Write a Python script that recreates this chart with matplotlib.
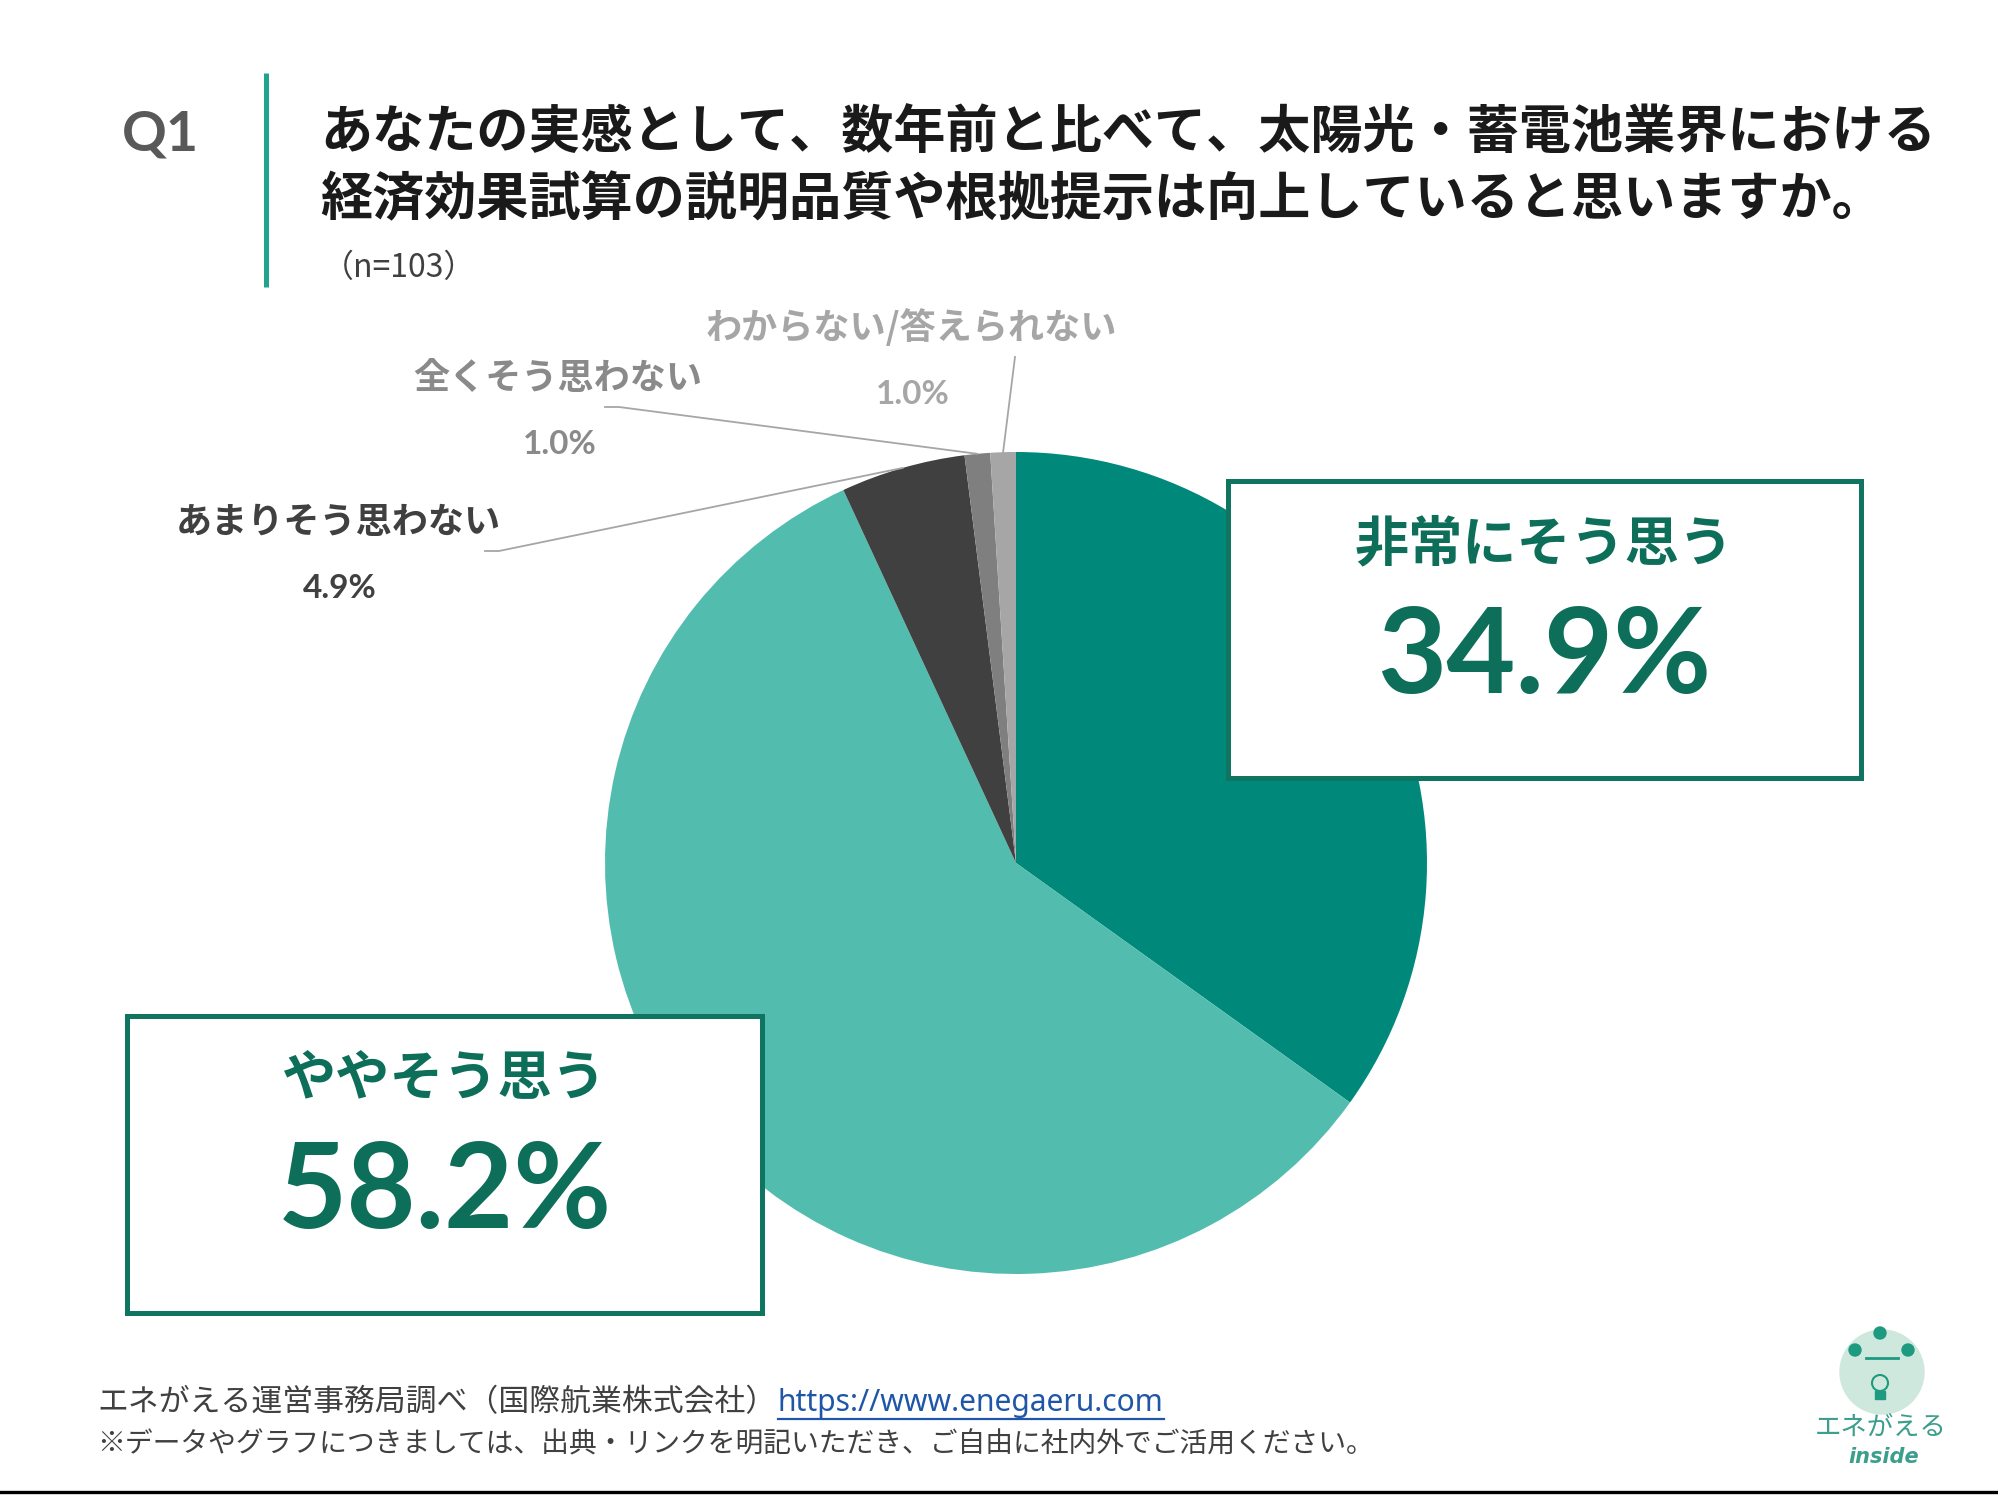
import matplotlib
matplotlib.use('Agg')
import matplotlib.pyplot as plt
from matplotlib.patches import Rectangle, Circle
import numpy as np

plt.rcParams['font.family'] = ['Noto Sans CJK JP', 'DejaVu Sans']

# survey data
categories = ['非常にそう思う', 'ややそう思う', 'あまりそう思わない', '全くそう思わない', 'わからない/答えられない']
values = [34.9, 58.2, 4.9, 1.0, 1.0]
value_labels = ['34.9%', '58.2%', '4.9%', '1.0%', '1.0%']
colors = ['#00897a', '#52bdae', '#404040', '#7f7f7f', '#a6a6a6']

title_lines = ['あなたの実感として、数年前と比べて、太陽光・蓄電池業界における',
               '経済効果試算の説明品質や根拠提示は向上していると思いますか。']
sample_size = '（n=103）'
source = 'エネがえる運営事務局調べ（国際航業株式会社）'
url = 'https://www.enegaeru.com'
note = '※データやグラフにつきましては、出典・リンクを明記いただき、ご自由に社内外でご活用ください。'

W, H = 1999, 1500
fig = plt.figure(figsize=(W / 100, H / 100), dpi=100)
fig.patch.set_facecolor('white')

# pie position in pixels
cx, cy, r = 1016, 863, 411

pie_ax = fig.add_axes([(cx - r) / W, (H - cy - r) / H, 2 * r / W, 2 * r / H])
pie_ax.pie(values, colors=colors, startangle=90, counterclock=False, radius=1,
           wedgeprops={'linewidth': 0})
pie_ax.set_xlim(-1, 1)
pie_ax.set_ylim(-1, 1)
pie_ax.axis('off')

# overlay in pixel coordinates (y down)
ax = fig.add_axes([0, 0, 1, 1], zorder=2)
ax.set_xlim(0, W)
ax.set_ylim(H, 0)
ax.axis('off')

teal_dark = '#0d6e5a'

# header
ax.text(160, 134, 'Q1', fontsize=40, fontweight='bold', color='#595959',
        family=['Lato', 'DejaVu Sans'], ha='center', va='center')
ax.plot([266, 266], [73, 287], color='#20a48e', lw=3.6, solid_capstyle='butt')
ax.text(320, 132, title_lines[0], fontsize=37.5, fontweight='bold', color='#1a1a1a', va='center')
ax.text(320, 200, title_lines[1], fontsize=37.5, fontweight='bold', color='#1a1a1a', va='center')
ax.text(322, 268, sample_size, fontsize=23, color='#404040', va='center')

# leader labels for the small slices
cum = np.cumsum([0] + values[:-1])
mid = np.radians(90 - (cum + np.array(values) / 2) / sum(values) * 360)
label_pos = {2: (338, 523), 3: (558, 379), 4: (911, 328)}
elbow = {2: (485, 551), 3: (605, 407), 4: (1015, 357)}
text_colors = {2: '#404040', 3: '#8a8a8a', 4: '#a6a6a6'}
for i in (2, 3, 4):
    lx, ly = label_pos[i]
    ax.text(lx, ly, categories[i], fontsize=26, fontweight='bold', color=text_colors[i],
            ha='center', va='center')
    ax.text(lx + 2, ly + 66, value_labels[i], fontsize=24, fontweight='bold', color=text_colors[i],
            family=['Lato', 'DejaVu Sans'], ha='center', va='center')
    ex, ey = elbow[i]
    rx = cx + r * np.cos(mid[i])
    ry = cy - r * np.sin(mid[i])
    if i == 4:
        ax.plot([ex, rx], [ey, ry], color='#a6a6a6', lw=1.3)
    else:
        ax.plot([ex, ex + 14, rx], [ey, ey, ry], color='#a6a6a6', lw=1.3)

# callout boxes for the two large slices
boxes = {0: (1228, 481, 633, 297), 1: (127, 1016, 635, 297)}
for i, (bx, by, bw, bh) in boxes.items():
    ax.add_patch(Rectangle((bx, by), bw, bh, facecolor='white', edgecolor='#0f7560', lw=3.6))
    ax.text(bx + bw / 2, by + 64, categories[i], fontsize=39, fontweight='bold', color=teal_dark,
            ha='center', va='center')
    ax.text(bx + bw / 2, by + 178, value_labels[i], fontsize=86, fontweight='bold', color=teal_dark,
            family=['Lato', 'DejaVu Sans'], ha='center', va='center')

# footer
ax.text(97, 1403, source, fontsize=22.2, color='#404040', va='center')
url_text = ax.text(778, 1403, url, fontsize=21.6, color='#1f56a8', va='center',
                   family=['Noto Sans', 'DejaVu Sans'])
ax.text(97, 1444, note, fontsize=20, color='#404040', va='center')
ax.plot([0, W], [1492, 1492], color='black', lw=2.4)

# logo
ax.add_patch(Circle((1882, 1372), 42, color='#cfe8dd'))
for ex in (1855, 1908):
    ax.add_patch(Circle((ex, 1350), 6, color='#1e9a80'))
ax.add_patch(Circle((1880, 1333), 6, color='#1e9a80'))
ax.plot([1866, 1898], [1358, 1358], color='#1e9a80', lw=2)
ax.add_patch(Circle((1880, 1383), 8, fill=False, ec='#1e9a80', lw=1.5))
ax.add_patch(Rectangle((1875, 1391), 10, 8, color='#1e9a80'))
ax.text(1881, 1428, 'エネがえる', fontsize=19, color='#3c9e8c', ha='center', va='center')
ax.text(1884, 1457, 'inside', fontsize=15, color='#3c9e8c', fontstyle='italic', fontweight='bold',
        family=['DejaVu Sans'], ha='center', va='center')

# underline the url
fig.canvas.draw()
bb = url_text.get_window_extent()
ax.plot([bb.x0, bb.x1], [H - bb.y0 + 1, H - bb.y0 + 1], color='#1f56a8', lw=1.6)

fig.savefig('out.png', dpi=100)
